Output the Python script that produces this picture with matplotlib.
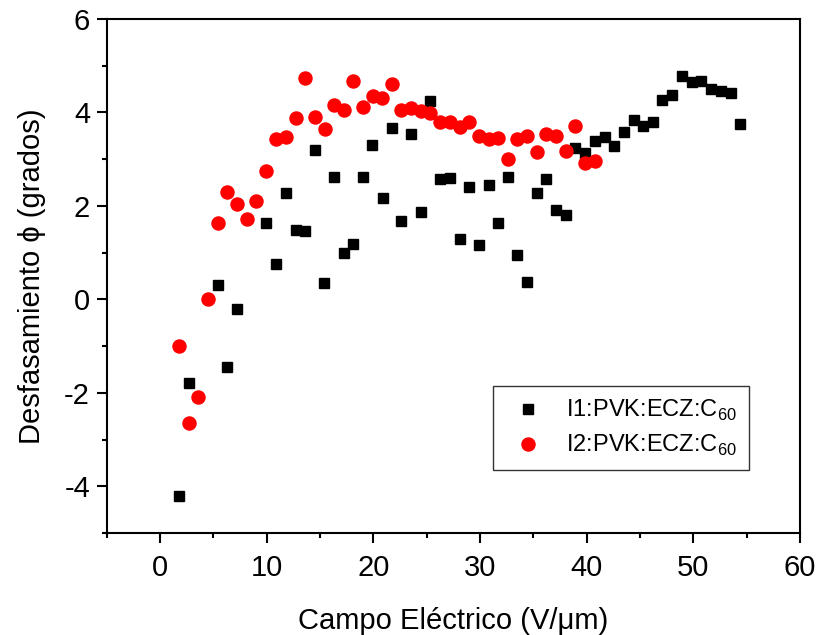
import matplotlib
matplotlib.use('Agg')
import matplotlib.pyplot as plt
from matplotlib.ticker import MultipleLocator

plt.rcParams['font.family'] = ['Liberation Sans', 'DejaVu Sans']
plt.rcParams['mathtext.fontset'] = 'custom'
plt.rcParams['mathtext.rm'] = 'Liberation Sans'
plt.rcParams['axes.unicode_minus'] = False

# serie I1 (cuadros negros)
campo_1 = [1.8, 2.7, 5.44, 6.32, 7.25, 9.96, 10.9, 11.77, 12.7, 13.6, 14.48, 15.41,
           16.28, 17.2, 18.1, 19.03, 19.9, 20.86, 21.7, 22.63, 23.54, 24.45, 25.3,
           26.25, 27.16, 28.1, 29.0, 29.9, 30.8, 31.7, 32.6, 33.5, 34.4, 35.35, 36.22,
           37.16, 38.06, 38.94, 39.87, 40.74, 41.67, 42.58, 43.5, 44.4, 45.3, 46.2,
           47.1, 48.0, 48.9, 49.83, 50.74, 51.65, 52.58, 53.5, 54.36]
fase_1 = [-4.2, -1.78, 0.31, -1.45, -0.21, 1.64, 0.76, 2.28, 1.48, 1.47, 3.20, 0.35,
          2.63, 1.0, 1.19, 2.62, 3.30, 2.17, 3.67, 1.68, 3.55, 1.88, 4.24,
          2.58, 2.60, 1.29, 2.40, 1.16, 2.45, 1.64, 2.61, 0.95, 0.37, 2.27, 2.58,
          1.92, 1.81, 3.23, 3.13, 3.39, 3.47, 3.28, 3.59, 3.85, 3.71, 3.79,
          4.27, 4.38, 4.79, 4.65, 4.67, 4.50, 4.47, 4.41, 3.76]

# serie I2 (circulos rojos)
campo_2 = [1.77, 2.70, 3.6, 4.5, 5.44, 6.32, 7.25, 8.15, 9.03, 9.96, 10.83, 11.77,
           12.7, 13.6, 14.5, 15.44, 16.35, 17.2, 18.1, 19.0, 19.93, 20.8, 21.74,
           22.58, 23.5, 24.45, 25.3, 26.25, 27.16, 28.1, 29.0, 29.9, 30.83, 31.7,
           32.64, 33.5, 34.4, 35.35, 36.2, 37.16, 38.06, 38.94, 39.87, 40.8]
fase_2 = [-1.0, -2.64, -2.08, 0.0, 1.63, 2.29, 2.05, 1.73, 2.10, 2.75, 3.43, 3.48,
          3.89, 4.74, 3.91, 3.64, 4.17, 4.05, 4.68, 4.12, 4.35, 4.31, 4.62,
          4.05, 4.10, 4.03, 3.98, 3.80, 3.80, 3.70, 3.80, 3.50, 3.43, 3.45,
          3.0, 3.44, 3.50, 3.15, 3.54, 3.50, 3.17, 3.72, 2.92, 2.96]

fig = plt.figure(figsize=(8.21, 6.35), dpi=100)
ax = fig.add_axes([0.130, 0.1606, 0.8445, 0.8094])

ax.plot(campo_1, fase_1, 's', color='black', markersize=7.2, label=r'I1:PVK:ECZ:C$_{60}$')
ax.plot(campo_2, fase_2, 'o', color='red', markersize=9.4, label=r'I2:PVK:ECZ:C$_{60}$')

ax.set_xlim(-5, 60)
ax.set_ylim(-5, 6)
ax.xaxis.set_major_locator(MultipleLocator(10))
ax.xaxis.set_minor_locator(MultipleLocator(5))
ax.yaxis.set_major_locator(MultipleLocator(2))
ax.yaxis.set_minor_locator(MultipleLocator(1))
ax.tick_params(which='major', direction='out', length=7, width=1.5, labelsize=21, pad=5)
ax.tick_params(axis='x', which='major', pad=8)
ax.tick_params(which='minor', direction='out', length=3.5, width=1.5)
for s in ax.spines.values():
    s.set_linewidth(1.5)

ax.set_xlabel('Campo Eléctrico (V/μm)', fontsize=21, labelpad=18)
ax.set_ylabel('Desfasamiento ϕ (grados)', fontsize=21, labelpad=13)

leg = ax.legend(loc='lower left', bbox_to_anchor=(0.557, 0.123), fontsize=17,
                frameon=True, fancybox=False, edgecolor='black', borderpad=0.5,
                handletextpad=0.6, labelspacing=0.4, borderaxespad=0)
leg.get_frame().set_linewidth(1.0)

fig.savefig('out.png', dpi=100)
